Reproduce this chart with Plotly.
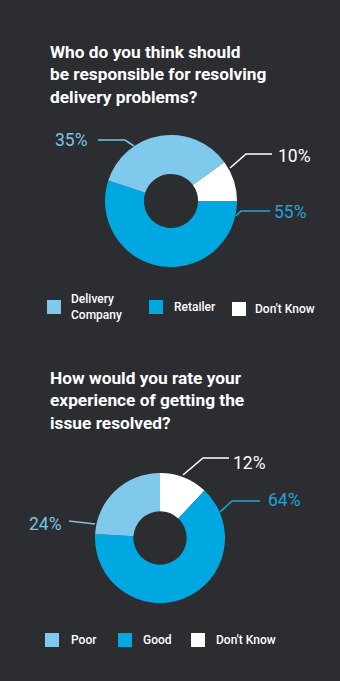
import plotly.graph_objects as go

W, H = 340, 681

# Survey 1: who should resolve delivery problems
q1_title = "Who do you think should<br>be responsible for resolving<br>delivery problems?"
q1_labels = ["Retailer", "Delivery Company", "Don't Know"]
q1_values = [55, 35, 10]
q1_legend = ["Delivery<br>Company", "Retailer", "Don't Know"]

# Survey 2: experience of getting the issue resolved
q2_title = "How would you rate your<br>experience of getting the<br>issue resolved?"
q2_labels = ["Don't Know", "Good", "Poor"]
q2_values = [12, 64, 24]
q2_legend = ["Poor", "Good", "Don't Know"]

LIGHT = "#7fcaec"
BLUE = "#00a8e2"
WHITE = "#ffffff"
BG = "#2c2d31"
LBL_LIGHT = "#7ec3e3"
LBL_BLUE = "#1da4da"

colors1 = {"Retailer": BLUE, "Delivery Company": LIGHT, "Don't Know": WHITE}
colors2 = {"Poor": LIGHT, "Good": BLUE, "Don't Know": WHITE}


def px(x, y):
    return x / W, 1 - y / H


def dom(cx, cy, r):
    x0, y1 = px(cx - r, cy - r)
    x1, y0 = px(cx + r, cy + r)
    return dict(x=[x0, x1], y=[y0, y1])


fig = go.Figure()
fig.add_trace(go.Pie(
    labels=q1_labels, values=q1_values, hole=0.41, sort=False,
    direction="clockwise", rotation=90,
    marker=dict(colors=[colors1[l] for l in q1_labels], line=dict(width=0)),
    textinfo="none", hoverinfo="label+percent", showlegend=False,
    domain=dom(171, 201, 66),
))
fig.add_trace(go.Pie(
    labels=q2_labels, values=q2_values, hole=0.41, sort=False,
    direction="clockwise", rotation=0,
    marker=dict(colors=[colors2[l] for l in q2_labels], line=dict(width=0)),
    textinfo="none", hoverinfo="label+percent", showlegend=False,
    domain=dom(160, 538, 65),
))

annotations = []
shapes = []

TITLE_FONT = dict(family="Roboto", size=17.3, color="white", weight="bold")


def title(text, x, y):
    xx, yy = px(x, y)
    annotations.append(dict(
        text=text, x=xx, y=yy, xref="paper", yref="paper",
        xanchor="left", yanchor="top", align="left", showarrow=False,
        font=TITLE_FONT,
    ))


def value_label(text, x, y, color, anchor):
    xx, yy = px(x, y)
    annotations.append(dict(
        text=text, x=xx, y=yy, xref="paper", yref="paper",
        xanchor=anchor, yanchor="middle", showarrow=False,
        font=dict(family="Roboto", size=17.5, color=color, weight=400),
    ))


def leader(points, color):
    path = ""
    for i, (x, y) in enumerate(points):
        xx, yy = px(x, y)
        path += ("M" if i == 0 else " L") + f" {xx} {yy}"
    shapes.append(dict(type="path", path=path, xref="paper", yref="paper",
                       line=dict(color=color, width=1.6)))


def legend_item(text, sx, sy, color, tx):
    x0, y0 = px(sx, sy)
    x1, y1 = px(sx + 14, sy + 14)
    shapes.append(dict(type="rect", x0=x0, x1=x1, y0=y1, y1=y0,
                       xref="paper", yref="paper", fillcolor=color,
                       line=dict(width=0)))
    xx, yy = px(tx, sy + 7)
    annotations.append(dict(
        text=text, x=xx, y=yy, xref="paper", yref="paper",
        xanchor="left", yanchor="middle", align="left", showarrow=False,
        font=dict(family="Roboto", size=12, color="white", weight=500),
    ))


# ---- first chart ----
title(q1_title, 48, 40)
v1 = dict(zip(q1_labels, q1_values))
value_label(f"{v1['Delivery Company']}%", 90, 140, LBL_LIGHT, "right")
leader([(98, 140), (125, 140), (134, 146)], LBL_LIGHT)
value_label(f"{v1["Don't Know"]}%", 276, 156, WHITE, "left")
leader([(230, 168), (246, 154), (272, 154)], WHITE)
value_label(f"{v1['Retailer']}%", 272, 212, LBL_BLUE, "left")
leader([(236, 216), (241, 211), (270, 211)], LBL_BLUE)

legend_item(q1_legend[0], 47, 300, LIGHT, 69)
legend_item(q1_legend[1], 149, 300, BLUE, 172)
legend_item(q1_legend[2], 232, 302, WHITE, 253)

# ---- second chart ----
title(q2_title, 48, 366)
v2 = dict(zip(q2_labels, q2_values))
value_label(f"{v2["Don't Know"]}%", 231, 463, WHITE, "left")
leader([(183, 475), (203, 458), (229, 458)], WHITE)
value_label(f"{v2['Good']}%", 266, 500, LBL_BLUE, "left")
leader([(220, 512), (232, 501), (260, 501)], LBL_BLUE)
value_label(f"{v2['Poor']}%", 64, 524, LBL_LIGHT, "right")
leader([(69, 521), (95, 524)], LBL_LIGHT)

legend_item(q2_legend[0], 45, 633, LIGHT, 69)
legend_item(q2_legend[1], 118, 633, BLUE, 141)
legend_item(q2_legend[2], 191, 633, WHITE, 214)

fig.update_layout(
    width=W, height=H,
    margin=dict(l=0, r=0, t=0, b=0),
    paper_bgcolor=BG, plot_bgcolor=BG,
    annotations=annotations, shapes=shapes,
    showlegend=False,
)

fig.write_html("out.html", config={"displayModeBar": False})
